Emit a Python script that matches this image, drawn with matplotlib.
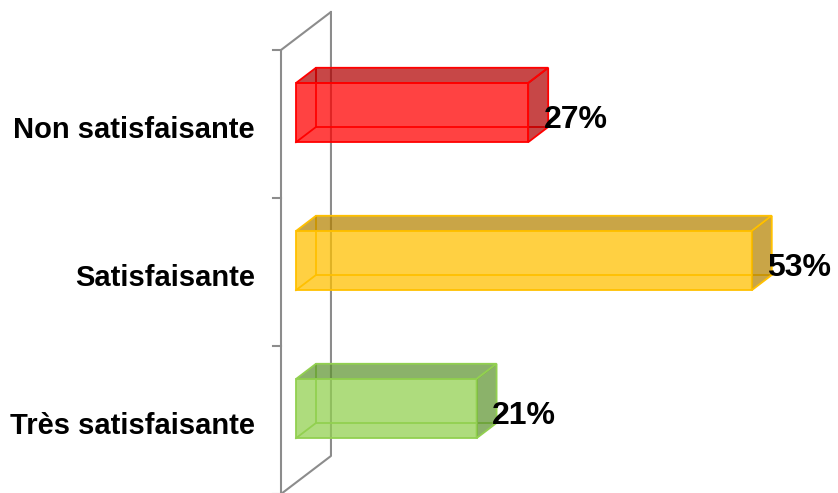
import matplotlib.pyplot as plt
from matplotlib.patches import Polygon
from matplotlib.colors import to_rgba

plt.rcParams["font.family"] = ["Liberation Sans", "DejaVu Sans"]

# data (bottom to top)
categories = ["Très satisfaisante", "Satisfaisante", "Non satisfaisante"]
values = [21, 53, 27]
labels = ["21%", "53%", "27%"]

edge_colors = ["#92D050", "#FFC000", "#FF0000"]
shade_colors = ["#5F9430", "#B48200", "#B20000"]

# fake 3D: depth vector of the wall, in data units
DX, DY = 5.81, 0.257
D0, D1 = 0.3, 0.7   # bars sit in the middle of the depth
BAR_H = 0.4


def proj(x, y, d):
    return (x + d * DX, y + d * DY)


fig = plt.figure(figsize=(8.38, 4.93), dpi=100, facecolor="white")
ax = fig.add_axes([0, 0, 1, 1])
ax.set_xlim(-281 / 8.6, (838 - 281) / 8.6)
ax.set_ylim(-493 / 148 + 420 / 148, 420 / 148)
ax.axis("off")

# wall (category axis)
n = len(categories)
lo, hi = -0.5, n - 0.5
wall = "#8C8C8C"
wx = [proj(0, hi, 1)[0], proj(0, hi, 0)[0], proj(0, lo, 0)[0]]
wy = [proj(0, hi, 1)[1], proj(0, hi, 0)[1], proj(0, lo, 0)[1]]
ax.plot(wx, wy, color=wall, lw=1.5, solid_capstyle="butt", zorder=1)
bx = [proj(0, hi, 1)[0], proj(0, lo, 1)[0], proj(0, lo, 0)[0]]
by = [proj(0, hi, 1)[1], proj(0, lo, 1)[1], proj(0, lo, 0)[1]]
ax.plot(bx, by, color=wall, lw=1.5, zorder=1)
for k in range(n + 1):
    ax.plot([-8 / 8.6, 0], [lo + k, lo + k], color=wall, lw=1.5, zorder=1)

for i, (v, ec, sc) in enumerate(zip(values, edge_colors, shade_colors)):
    y0, y1 = i - BAR_H / 2, i + BAR_H / 2
    # hidden edges
    hid = [proj(v, y0, D1), proj(0, y0, D1), proj(0, y1, D1)]
    ax.plot([p[0] for p in hid], [p[1] for p in hid], color=ec, lw=1.3, zorder=2)
    hid2 = [proj(0, y0, D0), proj(0, y0, D1)]
    ax.plot([p[0] for p in hid2], [p[1] for p in hid2], color=ec, lw=1.3, zorder=2)

    front = [proj(0, y0, D0), proj(v, y0, D0), proj(v, y1, D0), proj(0, y1, D0)]
    top = [proj(0, y1, D0), proj(v, y1, D0), proj(v, y1, D1), proj(0, y1, D1)]
    side = [proj(v, y0, D0), proj(v, y0, D1), proj(v, y1, D1), proj(v, y1, D0)]
    ax.add_patch(Polygon(front, closed=True, facecolor=to_rgba(ec, 0.74),
                         edgecolor=ec, lw=1.3, zorder=3))
    ax.add_patch(Polygon(top, closed=True, facecolor=to_rgba(sc, 0.72),
                         edgecolor=ec, lw=1.3, zorder=3))
    ax.add_patch(Polygon(side, closed=True, facecolor=to_rgba(sc, 0.72),
                         edgecolor=ec, lw=1.3, zorder=3))

    # value label
    ax.annotate(labels[i], xy=proj(v, i, D0), xytext=(11, -5),
                textcoords="offset points", ha="left", va="center",
                fontsize=23, fontweight="bold", color="black", zorder=5)
    # category label
    ax.annotate(categories[i], xy=(0, i), xytext=(-18.7, -4.2),
                textcoords="offset points", ha="right", va="center",
                fontsize=21, fontweight="bold", color="black", zorder=5)

fig.savefig("out.png", dpi=100, facecolor="white")
